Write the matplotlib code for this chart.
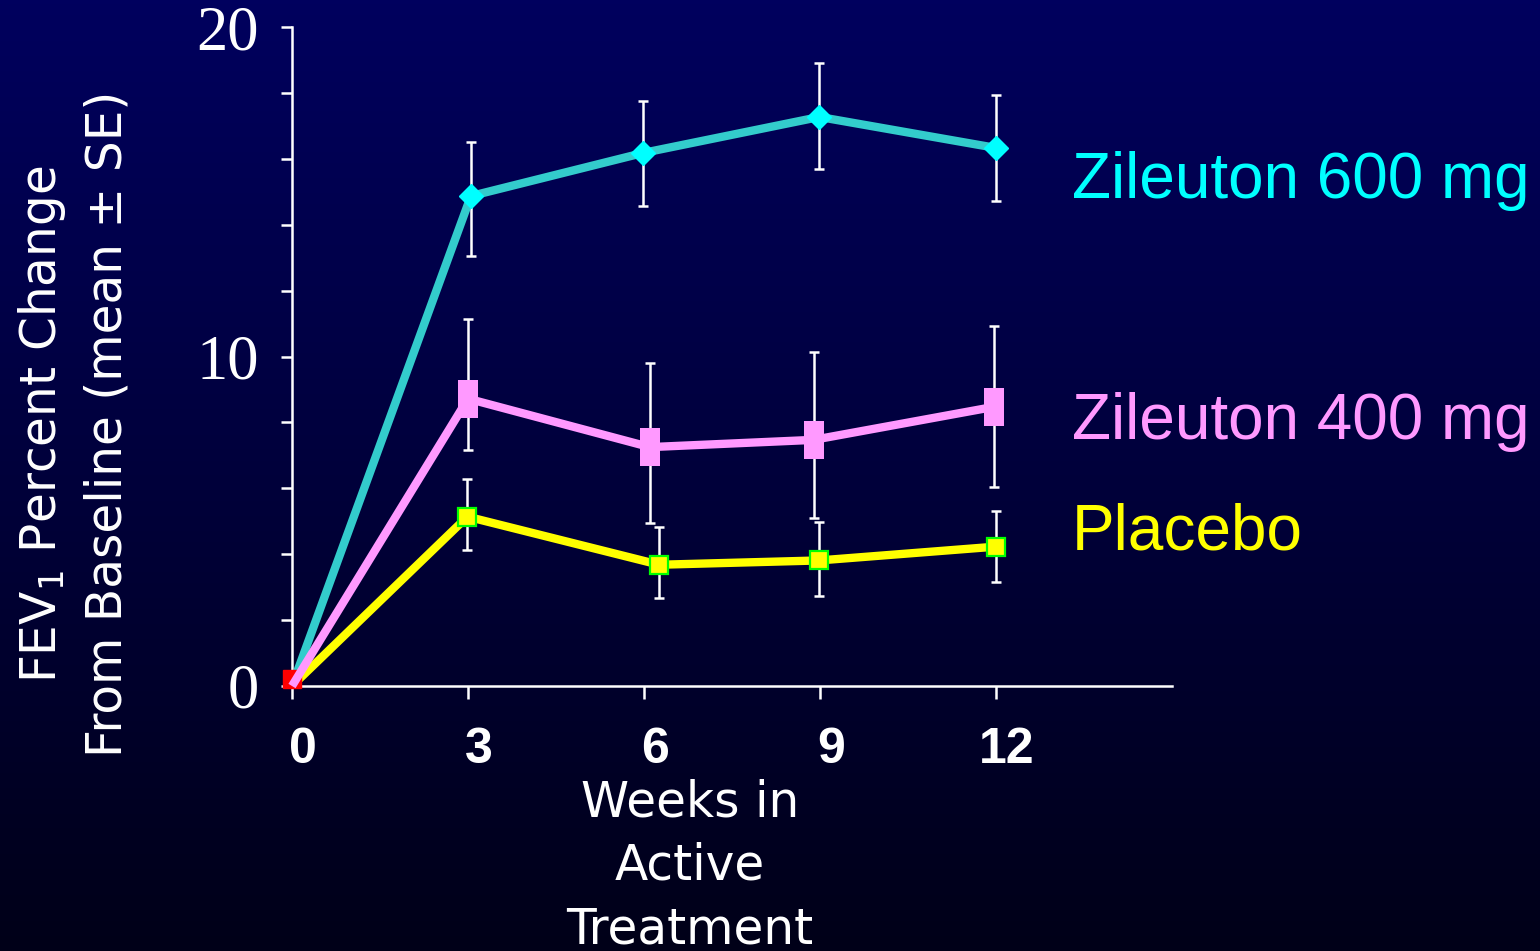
import numpy as np
import matplotlib
matplotlib.use("Agg")
import matplotlib.pyplot as plt
from matplotlib.colors import LinearSegmentedColormap
from matplotlib.path import Path
from matplotlib.transforms import ScaledTranslation

plt.rcParams['mathtext.default'] = 'regular'

# weeks in active treatment (x as drawn for each series)
week_ticks = [0, 3, 6, 9, 12]
x_600 = [0, 3.05, 5.99, 8.99, 12.0]
x_400 = [0, 3.0, 6.1, 8.89, 11.96]
x_pbo = [0, 2.99, 6.26, 8.98, 12.0]

# FEV1 percent change from baseline (mean) and SE bar extents
z600 = [0, 14.87, 16.18, 17.27, 16.33]
z600_lo = [0, 1.82, 1.61, 1.58, 1.61]
z600_hi = [0, 1.64, 1.57, 1.64, 1.61]

z400 = [0, 8.72, 7.25, 7.47, 8.47]
z400_lo = [0, 1.56, 2.30, 2.37, 2.43]
z400_hi = [0, 2.42, 2.55, 2.67, 2.46]

pbo = [0, 5.14, 3.68, 3.81, 4.23]
pbo_lo = [0, 1.01, 1.01, 1.08, 1.07]
pbo_hi = [0, 1.14, 1.15, 1.17, 1.08]

labels = ["Zileuton 600 mg", "Zileuton 400 mg", "Placebo"]
label_colors = ["#00FFFF", "#FF99FF", "#FFFF00"]

W, H = 1540, 951
fig = plt.figure(figsize=(W / 100, H / 100), dpi=100)

# navy -> near black background
bg = fig.add_axes([0, 0, 1, 1], zorder=-10)
grad = np.linspace(1, 0, 256).reshape(-1, 1)
cmap = LinearSegmentedColormap.from_list("bg", ["#000018", "#00005E"])
bg.imshow(grad, aspect="auto", cmap=cmap, extent=[0, 1, 0, 1])
bg.axis("off")

ax = fig.add_axes([292 / W, 1 - 686 / H, 880 / W, 659 / H])
ax.set_facecolor("none")
ax.set_xlim(0, 15)
ax.set_ylim(0, 20)

for s in ["top", "right"]:
    ax.spines[s].set_visible(False)
for s in ["left", "bottom"]:
    ax.spines[s].set_color("white")
    ax.spines[s].set_linewidth(1.8)

ebkw = dict(fmt="none", ecolor="white", elinewidth=1.8, capsize=3.3,
            capthick=1.8, zorder=2)
ax.errorbar(x_600[1:], z600[1:], yerr=[z600_lo[1:], z600_hi[1:]], **ebkw)
ax.errorbar(x_400[1:], z400[1:], yerr=[z400_lo[1:], z400_hi[1:]], **ebkw)
ax.errorbar(x_pbo[1:], pbo[1:], yerr=[pbo_lo[1:], pbo_hi[1:]], **ebkw)

# placebo
ax.plot(x_pbo, pbo, color="#FFFF00", lw=6, zorder=3, clip_on=False,
        solid_capstyle="butt")
ax.plot(x_pbo[1:], pbo[1:], ls="none", marker="s", ms=12.5, mfc="#FFFF00",
        mec="#00FF00", mew=1.6, zorder=3.1)

# 600 mg
ax.plot(x_600, z600, color="#33CCCC", lw=6, zorder=3.2, clip_on=False,
        solid_capstyle="butt")
ax.plot(x_600[1:], z600[1:], ls="none", marker="D", ms=12, color="#00FFFF",
        zorder=3.3)

# start point
ax.plot([0], [0.2], marker="s", ms=13.5, color="#FF0000", ls="none",
        zorder=3.35, clip_on=False)

# 400 mg, tall rectangle marker
tall = Path([(-0.5, -1), (0.5, -1), (0.5, 1), (-0.5, 1), (-0.5, -1)],
            [Path.MOVETO, Path.LINETO, Path.LINETO, Path.LINETO, Path.CLOSEPOLY])
ax.plot(x_400, z400, color="#FF99FF", lw=6, zorder=3.4, clip_on=False,
        solid_capstyle="butt")
ax.plot(x_400[1:], z400[1:], ls="none", marker=tall, ms=27.5, color="#FF99FF",
        mew=0, zorder=3.5)

# y axis ticks
ax.set_yticks([0, 10, 20])
ax.set_yticks(np.arange(0, 21, 2), minor=True)
ax.tick_params(axis="y", which="both", direction="out", length=7.7, width=1.8,
               color="white", labelcolor="white", pad=16)
for t in ax.get_yticklabels():
    t.set_family("Liberation Serif")
    t.set_fontsize(45)

# x axis ticks
ax.set_xticks(week_ticks)
ax.set_xticklabels([str(w) for w in week_ticks])
ax.tick_params(axis="x", direction="out", length=9.6, width=1.8,
               color="white", labelcolor="white", pad=20)
shift = ScaledTranslation(0.11, 0, fig.dpi_scale_trans)
for t in ax.get_xticklabels():
    t.set_family("Liberation Sans")
    t.set_fontweight("bold")
    t.set_fontsize(36)
    t.set_transform(t.get_transform() + shift)

# axis titles
fig.text(73.5 / W, 1 - 424 / H,
         "FEV$_1$ Percent Change\nFrom Baseline (mean ± SE)",
         rotation=90, ha="center", va="center", ma="center", color="white",
         fontsize=35, family="DejaVu Sans", linespacing=1.42)
fig.text(690 / W, 1 - 866 / H, "Weeks in\nActive\nTreatment",
         ha="center", va="center", ma="center", color="white",
         fontsize=35, family="DejaVu Sans", linespacing=1.4)

# series labels
baselines = [198, 439, 550]
for txt, col, yb in zip(labels, label_colors, baselines):
    fig.text(1072 / W, 1 - yb / H, txt, color=col, fontsize=46,
             family="Liberation Sans", ha="left", va="baseline")

fig.savefig("out.png", dpi=100)
